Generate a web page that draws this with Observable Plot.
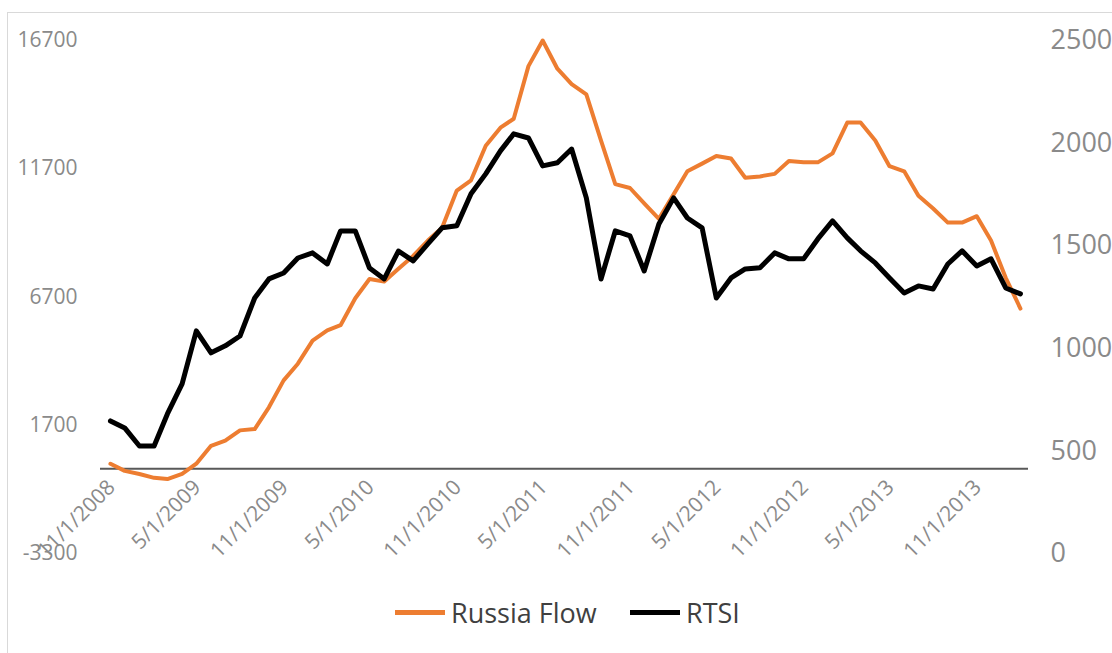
<!DOCTYPE html>
<html><head><meta charset="utf-8">
<script src="https://cdn.jsdelivr.net/npm/d3@7"></script>
<script src="https://cdn.jsdelivr.net/npm/@observablehq/plot@0.6"></script>
<style>
body{margin:0;background:#fff;overflow:hidden;width:1112px;height:653px;position:relative;font-family:"Open Sans",sans-serif}
#frame{position:absolute;left:7px;top:12px;width:1200px;height:700px;border:1px solid #d9d9d9;}
#chart{position:absolute;left:0;top:0}
#legend{position:absolute;top:592px;left:0;width:1112px;height:40px;font-size:27px;color:#404040}
.item{position:absolute;display:flex;align-items:center;height:40px}
.sw{display:inline-block;width:50px;height:5px;margin-right:6px}
</style></head><body>
<div id="frame"></div>
<div id="chart"></div>
<div id="legend">
  <div class="item" style="left:395px"><span class="sw" style="background:#ED7D31"></span><span id="l1"></span></div>
  <div class="item" style="left:630px"><span class="sw" style="background:#000"></span><span id="l2"></span></div>
</div>
<script>
// Categories: monthly observations, Nov 2008 .. Feb 2014
const months = d3.utcMonths(new Date(Date.UTC(2008,10,1)), new Date(Date.UTC(2014,2,1)));
const seriesNames = ["Russia Flow", "RTSI"];
// Russia Flow (left axis)
const flow = [200,-80,-200,-350,-400,-200,200,900,1100,1500,1550,2400,3450,4100,5000,5400,
  5600,6650,7400,7300,7800,8300,8900,9400,10850,11250,12600,13300,13650,15700,16700,15600,
  15000,14600,12800,11100,10950,10350,9750,10700,11600,11900,12200,12100,11350,11400,11500,12000,
  11950,11950,12300,13500,13500,12800,11800,11600,10650,10150,9600,9600,9850,8900,7450,6250];
// RTSI (right axis)
const rtsi = [646,612,524,524,680,827,1085,978,1012,1060,1245,1338,1367,1440,1465,1411,
  1572,1572,1391,1338,1474,1426,1509,1587,1597,1753,1850,1962,2045,2025,1889,1904,
  1971,1733,1338,1572,1548,1377,1606,1733,1635,1587,1245,1343,1387,1392,1465,1436,
  1436,1533,1621,1538,1475,1416,1343,1270,1304,1289,1411,1475,1401,1436,1294,1265];
// Tick labels
const leftTicks = [-3300,1700,6700,11700,16700];
const rightTicks = [0,500,1000,1500,2000,2500];
const xTickLabels = ["11/1/2008","5/1/2009","11/1/2009","5/1/2010","11/1/2010","5/1/2011",
  "11/1/2011","5/1/2012","11/1/2012","5/1/2013","11/1/2013"];

const parseMDY = s => { const [m,d,y] = s.split("/").map(Number); return new Date(Date.UTC(y,m-1,d)); };
const toLeft = r => -3300 + 8*r;  // secondary axis mapping
const data = months.map((d,i)=>({date:d, flow:flow[i], rtsi:rtsi[i]}));
const tickData = xTickLabels.map(s=>({date:parseMDY(s), label:s}));

const gray = "#8a8a8a";
const chart = Plot.plot({
  width:1112, height:590, marginLeft:100, marginRight:84, marginTop:40, marginBottom:37,
  style:{fontFamily:'"Open Sans", sans-serif', fontSize:"21px", background:"transparent", overflow:"visible"},
  x:{type:"utc", domain:[new Date(Date.UTC(2008,9,11)), new Date(Date.UTC(2014,1,18))], axis:null},
  y:{domain:[-3300,16700], axis:null},
  marks:[
    Plot.axisY({anchor:"left", ticks:leftTicks, tickSize:0, tickPadding:23, tickFormat:d=>String(d), fill:gray, label:null}),
    Plot.axisY({anchor:"right", ticks:rightTicks.map(toLeft), tickSize:0, tickPadding:22, fontSize:27, tickFormat:v=>String(Math.round((v+3300)/8)), fill:gray, label:null}),
    Plot.ruleY([0], {stroke:"#595959", strokeWidth:2}),
    Plot.line(data, {x:"date", y:"flow", stroke:"#ED7D31", strokeWidth:4}),
    Plot.line(data, {x:"date", y:d=>toLeft(d.rtsi), stroke:"#000", strokeWidth:5}),
    Plot.text(tickData, {x:"date", y:()=>0, text:"label", rotate:-45, textAnchor:"end", dx:1, dy:15, fill:gray})
  ]
});
document.getElementById("chart").appendChild(chart);
document.getElementById("l1").textContent = seriesNames[0];
document.getElementById("l2").textContent = seriesNames[1];
</script>
</body></html>
